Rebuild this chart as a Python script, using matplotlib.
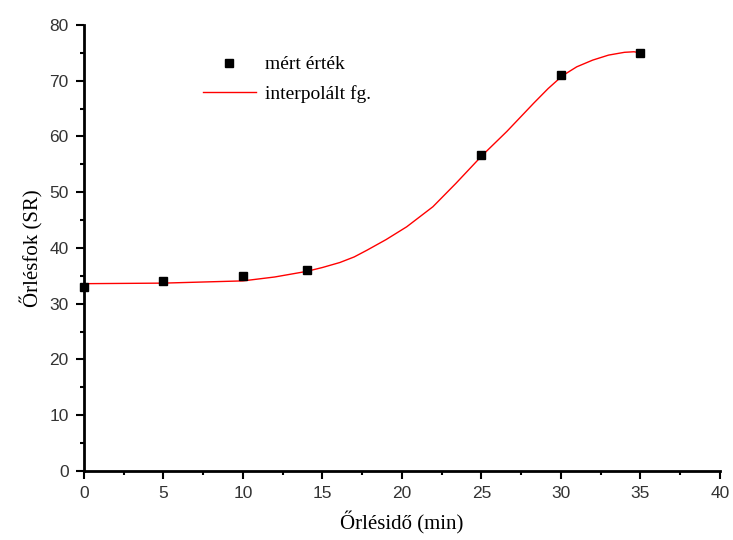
import matplotlib.pyplot as plt
from matplotlib.ticker import MultipleLocator

# measured values
meas_x = [0, 5, 10, 14, 25, 30, 35]
meas_y = [33.0, 34.0, 35.0, 36.0, 56.6, 71.0, 75.0]

# interpolated curve
curve_x = [0, 5, 10, 12, 14, 15, 16.1, 17, 17.8, 19, 20.3, 21.95, 23.4, 25.05,
           26.6, 28.3, 29.2, 30.1, 31.0, 32.0, 33.0, 34.0, 34.6, 35]
curve_y = [33.6, 33.7, 34.1, 34.8, 35.8, 36.5, 37.4, 38.4, 39.6, 41.5, 43.8, 47.4,
           51.6, 56.6, 60.9, 66.0, 68.6, 70.9, 72.5, 73.7, 74.6, 75.1, 75.2, 75.0]

serif = 'Liberation Serif'

fig = plt.figure(figsize=(7.33, 5.40), dpi=100)
ax = fig.add_axes([0.1146, 0.1278, 0.8674, 0.8259])

ax.plot(meas_x, meas_y, 's', color='black', markersize=6, label='mért érték',
        clip_on=False, zorder=3)
ax.plot(curve_x, curve_y, '-', color='red', linewidth=1, label='interpolált fg.')

ax.set_xlim(0, 40)
ax.set_ylim(0, 80)
ax.xaxis.set_major_locator(MultipleLocator(5))
ax.xaxis.set_minor_locator(MultipleLocator(2.5))
ax.yaxis.set_major_locator(MultipleLocator(10))
ax.yaxis.set_minor_locator(MultipleLocator(5))

for s in ['top', 'right']:
    ax.spines[s].set_visible(False)
for s in ['left', 'bottom']:
    ax.spines[s].set_linewidth(2)

ax.tick_params(which='major', direction='out', length=6, width=1.5,
               labelsize=12.5, labelcolor='#333333', pad=5)
ax.tick_params(which='minor', direction='out', length=3, width=1.5)
for lab in ax.get_xticklabels() + ax.get_yticklabels():
    lab.set_family('Liberation Sans')

ax.set_xlabel('Őrlésidő (min)', fontsize=15, family=serif, labelpad=7)
ax.set_ylabel('Őrlésfok (SR)', fontsize=15, family=serif, labelpad=4)

leg = ax.legend(loc='upper left', bbox_to_anchor=(0.16, 0.97), frameon=False,
                prop={'family': serif, 'size': 14}, handlelength=2.7,
                handletextpad=0.5, labelspacing=0.6)

fig.savefig('out.png', dpi=100)
